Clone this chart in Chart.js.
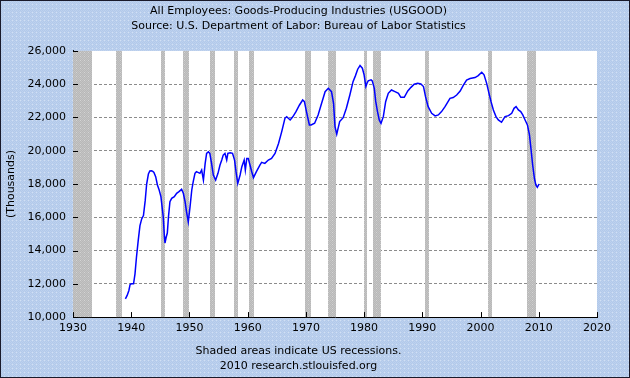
<!DOCTYPE html>
<html lang="en">
  <head>
    <meta charset="UTF-8" />
    <title>All Employees: Goods-Producing Industries (USGOOD)</title>
    <script src="https://cdn.jsdelivr.net/npm/chart.js"></script>
    <style>
      html,
      body {
        margin: 0;
        padding: 0;
        background: #b4cbe9;
      }
      canvas {
        display: block;
      }
    </style>
  </head>
  <body>
    <canvas id="chart" width="630" height="378"></canvas>
    <script>
      // Monthly-ish readings of USGOOD (thousands)
      const years = [
        1939.0, 1939.3, 1939.6, 1939.8, 1940.0, 1940.4, 1940.65, 1940.9, 1941.2, 1941.5,
        1941.8, 1942.1, 1942.4, 1942.65, 1942.95, 1943.2, 1943.5, 1943.7, 1943.9, 1944.2,
        1944.5, 1944.8, 1945.1, 1945.5, 1945.7, 1945.8, 1946.0, 1946.2, 1946.4, 1946.65,
        1946.95, 1947.4, 1947.8, 1948.2, 1948.65, 1948.95, 1949.25, 1949.5, 1949.8, 1950.1,
        1950.4, 1950.65, 1950.95, 1951.2, 1951.8, 1952.1, 1952.4, 1952.7, 1952.95, 1953.25,
        1953.5, 1953.8, 1954.1, 1954.5, 1954.9, 1955.25, 1955.55, 1955.8, 1956.1, 1956.4,
        1956.6, 1957.0, 1957.4, 1957.75, 1958.0, 1958.3, 1958.7, 1959.0, 1959.4, 1959.6,
        1959.85, 1960.1, 1960.4, 1960.7, 1961.0, 1961.5, 1962.1, 1962.4, 1962.95, 1963.55,
        1964.1, 1964.7, 1965.3, 1965.85, 1966.4, 1966.7, 1967.3, 1967.75, 1968.3, 1968.9,
        1969.45, 1969.75, 1970.1, 1970.6, 1970.9, 1971.5, 1972.1, 1972.7, 1973.3, 1973.85,
        1974.4, 1974.75, 1975.0, 1975.3, 1975.8, 1976.4, 1976.95, 1977.55, 1978.1, 1978.5,
        1978.9, 1979.3, 1979.7, 1980.0, 1980.3, 1980.5, 1980.7, 1981.2, 1981.4, 1981.75,
        1982.0, 1982.3, 1982.6, 1982.9, 1983.3, 1983.7, 1984.15, 1984.7, 1985.3, 1985.9,
        1986.3, 1986.9, 1987.5, 1988.05, 1988.6, 1989.2, 1989.75, 1990.2, 1990.55, 1991.0,
        1991.6, 1992.2, 1992.75, 1993.3, 1993.9, 1994.75, 1995.3, 1995.9, 1996.5, 1997.05,
        1997.6, 1998.2, 1999.05, 1999.6, 2000.2, 2000.6, 2001.05, 2001.45, 2001.8, 2002.2,
        2002.65, 2003.05, 2003.6, 2004.2, 2004.8, 2005.35, 2005.75, 2006.1, 2006.5, 2006.9,
        2007.25, 2007.65, 2008.05, 2008.4, 2008.65, 2008.95, 2009.25, 2009.5, 2009.75, 2010.05,
      ];
      const employees = [
        11100, 11300, 11600, 11950, 12000, 12000, 12600, 13600, 14600, 15500,
        15900, 16100, 17000, 18000, 18600, 18780, 18800, 18760, 18700, 18440,
        17940, 17640, 17240, 16030, 14830, 14450, 14800, 15050, 16030, 16940,
        17140, 17240, 17440, 17540, 17680, 17440, 16940, 16330, 15730, 16630,
        17640, 18140, 18640, 18740, 18640, 18840, 18240, 19240, 19840, 19940,
        19840, 19240, 18540, 18240, 18640, 19140, 19440, 19740, 19840, 19440,
        19840, 19880, 19840, 19440, 18740, 18040, 18540, 19040, 19440, 18840,
        19540, 19540, 19140, 18740, 18380, 18740, 19140, 19300, 19240, 19440,
        19540, 19840, 20440, 21150, 21950, 22040, 21850, 22040, 22350, 22750,
        23050, 22950, 22350, 21550, 21550, 21650, 22150, 22850, 23550, 23750,
        23550, 22850, 21450, 20990, 21750, 21990, 22550, 23350, 24150, 24500,
        24900, 25120, 24960, 24560, 23860, 24060, 24200, 24260, 24200, 23750,
        22950, 22350, 21850, 21650, 22050, 22950, 23450, 23650, 23550, 23450,
        23210, 23210, 23590, 23810, 24000, 24050, 24010, 23860, 23250, 22650,
        22250, 22090, 22150, 22350, 22650, 23150, 23200, 23350, 23590, 23950,
        24250, 24340, 24400, 24520, 24720, 24560, 24050, 23450, 22950, 22450,
        22050, 21850, 21710, 22050, 22110, 22250, 22550, 22650, 22450, 22350,
        22150, 21850, 21550, 20950, 20150, 19140, 18340, 17940, 17800, 18000,
      ];

      // US recessions (decimal years)
      const recessionStart = [1929.6, 1937.4, 1945.1, 1948.85, 1953.5, 1957.6, 1960.3, 1969.9, 1973.85, 1980.0, 1981.5, 1990.5, 2001.2, 2007.9];
      const recessionEnd = [1933.2, 1938.5, 1945.8, 1949.8, 1954.4, 1958.3, 1961.1, 1970.9, 1975.2, 1980.55, 1982.9, 1991.2, 2001.9, 2009.5];

      const yearTicks = { min: 1930, max: 2020, step: 10 };
      const valueTicks = { min: 10000, max: 26000, step: 2000 };

      const FONT = "'DejaVu Sans', Verdana, sans-serif";

      function makePattern(base, alt, dot) {
        const c = document.createElement("canvas");
        c.width = 4;
        c.height = 4;
        const g = c.getContext("2d");
        g.fillStyle = base;
        g.fillRect(0, 0, 4, 4);
        g.fillStyle = alt;
        for (let y = 0; y < 4; y++)
          for (let x = 0; x < 4; x++) if ((x + y) % 2 === 1) g.fillRect(x, y, 1, 1);
        g.fillStyle = dot;
        g.fillRect(0, 0, 1, 1);
        return g.createPattern(c, "repeat");
      }

      const ctx = document.getElementById("chart").getContext("2d");
      const bgPattern = makePattern("#b2c9ea", "#bdd1ee", "#d2e0f4");
      const recPattern = makePattern("#c4c4c4", "#b8b8b8", "#d4d4d4");

      const backdrop = {
        id: "backdrop",
        beforeDraw(chart) {
          const { ctx, chartArea: a } = chart;
          ctx.save();
          ctx.fillStyle = bgPattern;
          ctx.fillRect(0, 0, chart.width, chart.height);
          ctx.fillStyle = "#ffffff";
          ctx.fillRect(a.left, a.top, a.right - a.left, a.bottom - a.top);
          ctx.restore();
        },
        afterDraw(chart) {
          const ctx = chart.ctx;
          ctx.save();
          ctx.strokeStyle = "#1a1a2a";
          ctx.lineWidth = 1;
          ctx.strokeRect(0.5, 0.5, chart.width - 1, chart.height - 1);
          ctx.restore();
        },
      };

      const recessions = {
        id: "recessions",
        beforeDatasetsDraw(chart) {
          const { ctx, chartArea: a, scales } = chart;
          ctx.save();
          ctx.fillStyle = recPattern;
          recessionStart.forEach((s, i) => {
            const x0 = Math.max(a.left, scales.x.getPixelForValue(s));
            const x1 = Math.min(a.right, scales.x.getPixelForValue(recessionEnd[i]));
            ctx.fillRect(Math.round(x0), a.top, Math.max(1, Math.round(x1 - x0)), a.bottom - a.top);
          });
          ctx.restore();
        },
      };

      // short tick marks drawn inside the plot
      const innerTicks = {
        id: "innerTicks",
        afterDatasetsDraw(chart) {
          const { ctx, chartArea: a, scales } = chart;
          ctx.save();
          ctx.strokeStyle = "#000";
          ctx.lineWidth = 1;
          ctx.beginPath();
          scales.y.ticks.forEach((t) => {
            const y = Math.round(scales.y.getPixelForValue(t.value)) + 0.5;
            ctx.moveTo(a.left, y);
            ctx.lineTo(a.left + 5, y);
          });
          scales.x.ticks.forEach((t) => {
            const x = Math.round(scales.x.getPixelForValue(t.value)) + 0.5;
            ctx.moveTo(x, a.bottom);
            ctx.lineTo(x, a.bottom - 5);
          });
          ctx.stroke();
          ctx.restore();
        },
      };

      new Chart(ctx, {
        type: "line",
        data: {
          datasets: [
            {
              label: "USGOOD",
              data: years.map((y, i) => ({ x: y, y: employees[i] })),
              borderColor: "#0000ff",
              borderWidth: 1.5,
              pointRadius: 0,
              tension: 0,
              fill: false,
            },
          ],
        },
        options: {
          responsive: false,
          animation: false,
          devicePixelRatio: 1,
          layout: { padding: { left: 0, right: 33, top: 0, bottom: 0 } },
          plugins: {
            legend: { display: false },
            tooltip: { enabled: false },
            title: {
              display: true,
              text: [
                "All Employees: Goods-Producing Industries (USGOOD)",
                "Source: U.S. Department of Labor: Bureau of Labor Statistics",
              ],
              color: "#000",
              font: { family: FONT, size: 11, weight: "normal", lineHeight: 1.36 },
              padding: { top: 4, bottom: 17 },
            },
            subtitle: {
              display: true,
              position: "bottom",
              text: ["Shaded areas indicate US recessions.", "2010 research.stlouisfed.org"],
              color: "#000",
              font: { family: FONT, size: 11, weight: "normal", lineHeight: 1.36 },
              padding: { top: 0, bottom: 4 },
            },
          },
          scales: {
            x: {
              type: "linear",
              min: yearTicks.min,
              max: yearTicks.max,
              afterFit: (s) => {
                s.height = 27;
              },
              ticks: {
                stepSize: yearTicks.step,
                padding: 4,
                color: "#000",
                font: { family: FONT, size: 11 },
                maxRotation: 0,
                callback: (v) => String(v),
              },
              grid: { display: false, drawTicks: false },
              border: { display: true, color: "#000", width: 1 },
            },
            y: {
              min: valueTicks.min,
              max: valueTicks.max,
              afterFit: (s) => {
                s.width = 73;
              },
              ticks: {
                stepSize: valueTicks.step,
                padding: 7,
                color: "#000",
                font: { family: FONT, size: 11 },
                callback: (v) => v.toLocaleString("en-US"),
              },
              grid: {
                drawTicks: false,
                color: (c) => (c.tick && (c.tick.value === valueTicks.max || c.tick.value === valueTicks.min) ? "rgba(0,0,0,0)" : "#8c8c8c"),
                lineWidth: 1,
              },
              border: { display: true, color: "#000", width: 1, dash: [3, 2] },
              title: {
                display: true,
                text: "(Thousands)",
                color: "#000",
                font: { family: FONT, size: 11 },
                padding: { top: 5, bottom: 0 },
              },
            },
          },
        },
        plugins: [backdrop, recessions, innerTicks],
      });
    </script>
  </body>
</html>
